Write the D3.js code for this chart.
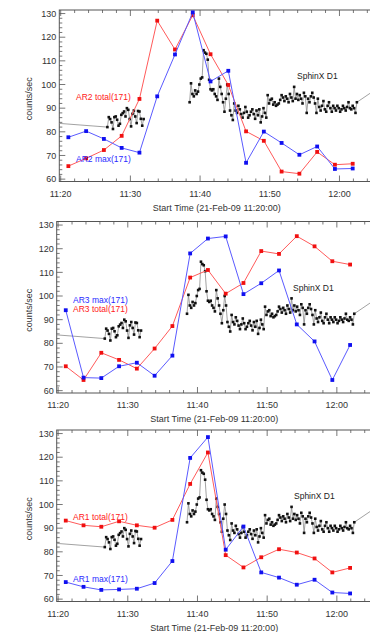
<!DOCTYPE html>
<html><head><meta charset="utf-8">
<script src="https://cdn.jsdelivr.net/npm/d3@7"></script>
<style>html,body{margin:0;padding:0;background:#fff;overflow:hidden}svg{display:block}</style>
</head><body><svg id="c" width="370" height="632"></svg>
<script>
// ---------------- DATA ----------------
const baseDate = "2009-02-21";
const arTimes = ["11:21:06","11:23:39","11:26:12","11:28:45","11:31:18","11:33:51","11:36:24","11:38:57",
  "11:41:30","11:44:03","11:46:36","11:49:09","11:51:42","11:54:15","11:56:48","11:59:21","12:01:54"];

const ar2Total = [65.5,68.8,72.3,78.3,93.9,127,114.8,129.3,112.8,99.8,80.2,76.2,63.2,62.3,71.5,66.1,66.5];
const ar2Max   = [77.7,80.3,77,73.2,71.2,95,112.7,130.5,101.3,105.8,66.9,80.1,75.3,70.3,73.8,64.3,64.5];
const ar3Total = [70.3,64.5,76,73,69.3,77.8,87.3,107.8,111,101,105.5,119,117.8,125.3,121,114.7,113.3];
const ar3Max   = [94,65.5,65.3,70.3,71.8,66.3,74.8,118,124.3,125.2,100.8,105.4,110.8,88,80.8,64.5,79.3];
const ar1Total = [93.2,91.2,90.6,92.9,91.2,90.2,93.5,108.7,122,78.6,73.4,77.7,81.1,79.7,77.2,71.3,73.2];
const ar1Max   = [67.2,65.2,63.9,64.1,64.4,66.8,76.1,119.7,128.5,80.9,90.7,71.3,69.1,66.1,68.2,62.8,62.4];

// SphinX D1 light curve (12 s cadence)
const sphinxCadenceSec = 12;
const sphinxBefore = {time: "11:17:00", value: 84.2};
const sphinxSeg1Start = "11:26:42";
const sphinxSeg1 = [82,86.2,85.4,84,81.2,86.2,86.5,85.1,82.6,83.4,87.2,87.9,88.6,86.5,90,89.3,85.4,82.3,
  87.6,89,86.5,83.7,88.8,88.6,85.5,82.6,85.4];
const sphinxSeg2Start = "11:38:30";
const sphinxSeg2 = [92.5,100.5,96,95,97.5,96,97,100,102.5,103,114.5,113.5,113,110.5,102,98,97.5,98,96,95,
  93.5,102.5,99,96,92.5,88.5,94,100,96,89,87,85,92,89,88,91,89.5,87.5,86,88,
  90.5,88.5,86,87,88.5,89.5,87.5,85.5,89,87,89.5,84,86.5,90,88,86,95.5,92,93.5,94,
  91.5,92.5,91,91.5,92,93.5,95.5,94.5,93,95,94,92.5,96,94.5,93,99,94,96,93.5,95.5,
  94,92,96.5,95,88,94,92.5,95,96.5,94.5,92,88,94,90.5,89,91,93,89.5,88.5,91,
  92.5,90,88.5,91,90,89,91,90,88.5,89.5,91,90,89,90.5,92.5,90,89.5,91,90,88,92.5];
const sphinxAfter = {time: "12:08:00", value: 103.5};

const yTicks = [60,70,80,90,100,110,120,130];
const xTickLabels = ["11:20","11:30","11:40","11:50","12:00"];
const xTitle = "Start Time (21-Feb-09 11:20:00)";
const yTitle = "counts/sec";

// ---------------- LAYOUT ----------------
const RED_LINE = "#ff5a5a", RED = "#f01010", BLUE_LINE = "#5a5aff", BLUE = "#1010f0";
const panels = [
  {left:59.3, top:10, series:[{v:ar2Total,c:RED,lc:RED_LINE},{v:ar2Max,c:BLUE,lc:BLUE_LINE}],
   labels:[{t:"AR2 total(171)",dx:16.7,dy:87.5,c:"#ff2020"},{t:"AR2 max(171)",dx:16.7,dy:149,c:"#2a2aff"},{t:"SphinX D1",dx:237.7,dy:66,c:"#222"}]},
  {left:56.7, top:221.5, series:[{v:ar3Total,c:RED,lc:RED_LINE},{v:ar3Max,c:BLUE,lc:BLUE_LINE}],
   labels:[{t:"AR3 max(171)",dx:16.3,dy:78.4,c:"#2a2aff"},{t:"AR3 total(171)",dx:16.3,dy:87.9,c:"#ff2020"},{t:"SphinX D1",dx:236.3,dy:66.2,c:"#222"}]},
  {left:56.7, top:430, series:[{v:ar1Total,c:RED,lc:RED_LINE},{v:ar1Max,c:BLUE,lc:BLUE_LINE}],
   labels:[{t:"AR1 total(171)",dx:16.3,dy:86.7,c:"#ff2020"},{t:"AR1 max(171)",dx:16.3,dy:149,c:"#2a2aff"},{t:"SphinX D1",dx:237.3,dy:65.7,c:"#222"}]}
];
const W = 315, H = 171.5;
const FONT = "'Liberation Sans', Arial, sans-serif";

const parse = d3.timeParse("%Y-%m-%d %H:%M:%S");
const T = s => parse(baseDate + " " + s);
const addSec = (d, s) => new Date(d.getTime() + s*1000);

const sphinxA = [{t:T(sphinxBefore.time), v:sphinxBefore.value}]
  .concat(sphinxSeg1.map((v,i)=>({t:addSec(T(sphinxSeg1Start), i*sphinxCadenceSec), v})));
const sphinxB = sphinxSeg2.map((v,i)=>({t:addSec(T(sphinxSeg2Start), i*sphinxCadenceSec), v}))
  .concat([{t:T(sphinxAfter.time), v:sphinxAfter.value}]);

const svg = d3.select("#c");

panels.forEach((p, pi) => {
  const x = d3.scaleTime().domain([T("11:19:48"), T("12:05:00")]).range([p.left, p.left + W]);
  const y = d3.scaleLinear().domain([59, 131.5]).range([p.top + H, p.top]);
  const g = svg.append("g");
  const clipId = "clip" + pi;
  svg.append("clipPath").attr("id", clipId).append("rect")
    .attr("x", p.left).attr("y", p.top).attr("width", W).attr("height", H);

  // frame
  g.append("rect").attr("x", p.left).attr("y", p.top).attr("width", W).attr("height", H)
    .attr("fill", "none").attr("stroke", "#555").attr("stroke-width", 1);

  // y ticks (left, inward)
  const yMinor = d3.range(60, 131.5, 2);
  g.selectAll(".ymin").data(yMinor).join("line")
    .attr("x1", p.left).attr("x2", d => p.left + (d % 10 === 0 ? 6 : 3))
    .attr("y1", d => y(d)).attr("y2", d => y(d)).attr("stroke", "#555").attr("stroke-width", 0.8);
  g.selectAll(".ylab").data(yTicks).join("text")
    .attr("x", p.left - 3).attr("y", d => y(d)).attr("dy", "0.35em")
    .attr("text-anchor", "end").attr("font-family", FONT).attr("font-size", 9).attr("fill", "#333")
    .text(d => d);

  // x ticks (top and bottom, inward)
  const xMinor = d3.timeMinute.every(2).range(T("11:20:00"), T("12:05:00"));
  xMinor.forEach(d => {
    const major = d.getMinutes() % 10 === 0;
    const len = major ? 6 : 3;
    g.append("line").attr("x1", x(d)).attr("x2", x(d)).attr("y1", p.top + H).attr("y2", p.top + H - len)
      .attr("stroke", "#555").attr("stroke-width", 0.8);
    g.append("line").attr("x1", x(d)).attr("x2", x(d)).attr("y1", p.top).attr("y2", p.top + len)
      .attr("stroke", "#555").attr("stroke-width", 0.8);
  });
  const fmt = d3.timeFormat("%H:%M");
  g.selectAll(".xlab").data(xTickLabels).join("text")
    .attr("x", d => x(T(d + ":00"))).attr("y", p.top + H + 12).attr("dy", "0.35em")
    .attr("text-anchor", "middle").attr("font-family", FONT).attr("font-size", 9).attr("fill", "#333")
    .text(d => fmt(T(d + ":00")));
  g.append("text").attr("x", p.left + W/2).attr("y", p.top + H + 26).attr("dy", "0.35em")
    .attr("text-anchor", "middle").attr("font-family", FONT).attr("font-size", 9).attr("fill", "#333")
    .text(xTitle);
  g.append("text").attr("transform", `translate(29,${p.top + H/2 + 3}) rotate(-90)`)
    .attr("text-anchor", "middle").attr("dy", "0.35em").attr("font-family", FONT).attr("font-size", 9)
    .attr("fill", "#333").text(yTitle);

  const data = g.append("g").attr("clip-path", `url(#${clipId})`);
  const line = d3.line().x(d => x(d.t)).y(d => y(d.v));

  // SphinX
  [sphinxA, sphinxB].forEach(seg => {
    data.append("path").datum(seg).attr("d", line).attr("fill", "none")
      .attr("stroke", "#8a8a8a").attr("stroke-width", 0.8);
  });
  const sp = sphinxA.slice(1).concat(sphinxB.slice(0, -1));
  data.selectAll(".sp").data(sp).join("rect")
    .attr("x", d => x(d.t) - 1.3).attr("y", d => y(d.v) - 1.3).attr("width", 2.6).attr("height", 2.6)
    .attr("fill", "#111");

  // AR series
  p.series.forEach(s => {
    const pts = s.v.map((v,i) => ({t:T(arTimes[i]), v}));
    data.append("path").datum(pts).attr("d", line).attr("fill", "none")
      .attr("stroke", s.lc).attr("stroke-width", 1);
    data.selectAll(null).data(pts).join("rect")
      .attr("x", d => x(d.t) - 1.9).attr("y", d => y(d.v) - 1.9).attr("width", 3.8).attr("height", 3.8)
      .attr("fill", s.c);
  });

  // labels
  p.labels.forEach(l => {
    g.append("text").attr("x", p.left + l.dx).attr("y", p.top + l.dy).attr("dy", "0.35em")
      .attr("font-family", FONT).attr("font-size", 8.5).attr("fill", l.c).text(l.t);
  });
});
</script></body></html>
